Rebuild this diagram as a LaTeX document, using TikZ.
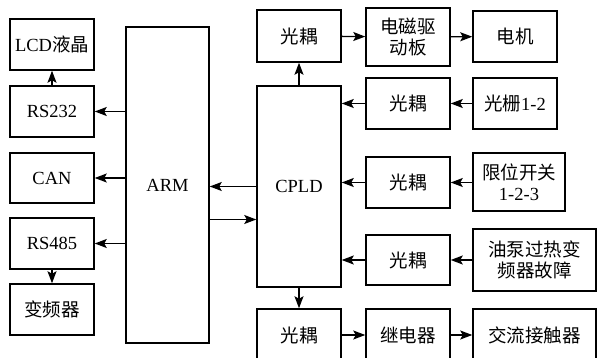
\documentclass[tikz,border=0pt]{standalone}
\usepackage{fontspec}
\setmainfont{Liberation Serif}
\newfontfamily\cjk{Noto Sans CJK SC}
\usetikzlibrary{arrows.meta}
\newcommand{\zh}[1]{{\cjk #1}}

\begin{document}
\begin{tikzpicture}[x=1pt, y=-1pt,
  blk/.style={draw, line width=1.5pt, inner sep=0pt, align=center,
    minimum width=84pt, minimum height=51pt, font=\fontsize{18.5}{21}\selectfont},
  arr/.style={line width=1.3pt, -{Stealth[length=12pt,width=9pt,inset=2.5pt]}}]
  \clip (0,0) rectangle (597,358);
  \useasboundingbox (0,0) rectangle (597,358);

  % Left column: interfaces of the ARM.
  \node[blk] (lcd)   at (52,44.5)  {LCD\zh{液晶}};
  \node[blk] (rs232) at (52,111.5) {RS232};
  \node[blk, minimum height=50pt] (can) at (52,178) {CAN};
  \node[blk] (rs485) at (52,243.5) {RS485};
  \node[blk] (vfd)   at (52,309.5) {\zh{变频器}};

  % Processors.
  \node[blk, minimum width=83pt, minimum height=316pt] (arm)  at (167.5,185)  {ARM};
  \node[blk, minimum height=201pt]                    (cpld) at (299,186.5)  {CPLD};

  % Right side: opto-couplers and field devices.
  \node[blk, minimum height=52pt] (oc1) at (299,36)  {\zh{光耦}};
  \node[blk, minimum height=58pt] (drv) at (408,37)  {\zh{电磁驱}\\\zh{动板}};
  \node[blk] (motor)   at (515,36.5)  {\zh{电机}};
  \node[blk] (oc2)     at (408,103.5) {\zh{光耦}};
  \node[blk] (grating) at (515,103.5) {\zh{光栅}1-2};
  \node[blk] (oc3)     at (408,182.5) {\zh{光耦}};
  \node[blk, minimum width=92pt, minimum height=58pt] (limit) at (519,182) {\zh{限位开关}\\1-2-3};
  \node[blk, minimum height=50pt] (oc4) at (408,260) {\zh{光耦}};
  \node[blk, minimum width=123pt, minimum height=62pt] (fault) at (534.5,260) {\zh{油泵过热变}\\\zh{频器故障}};
  \node[blk, minimum height=52pt] (oc5)       at (299,335)   {\zh{光耦}};
  \node[blk, minimum height=52pt] (relay)     at (408,335)   {\zh{继电器}};
  \node[blk, minimum width=123pt, minimum height=52pt] (contactor) at (534.5,335) {\zh{交流接触器}};

  % ARM to its interfaces.
  \foreach \n in {rs232,can,rs485}{
    \draw[arr] (arm.west |- \n) -- (\n.east);
  }
  \draw[arr] (rs232.north) -- (lcd.south);
  \draw[arr] (rs485.south) -- (vfd.north);

  % ARM <-> CPLD.
  \draw[arr] (cpld.west) -- (cpld.west -| arm.east);
  \draw[arr] ([yshift=-33pt]cpld.west -| arm.east) -- ([yshift=-33pt]cpld.west);

  % Outputs of the CPLD.
  \draw[arr] (cpld.north) -- (oc1.south);
  \draw[arr] (oc1) -- (drv);
  \draw[arr] (drv) -- (motor);
  \draw[arr] (cpld.south) -- (oc5.north);
  \draw[arr] (oc5) -- (relay);
  \draw[arr] (relay) -- (contactor);

  % Inputs of the CPLD.
  \draw[arr] (grating) -- (oc2);
  \draw[arr] (limit.west |- oc3) -- (oc3.east);
  \draw[arr] (fault) -- (oc4);
  \foreach \n in {oc2,oc3,oc4}{
    \draw[arr] (\n.west) -- (\n.west -| cpld.east);
  }
\end{tikzpicture}
\end{document}
